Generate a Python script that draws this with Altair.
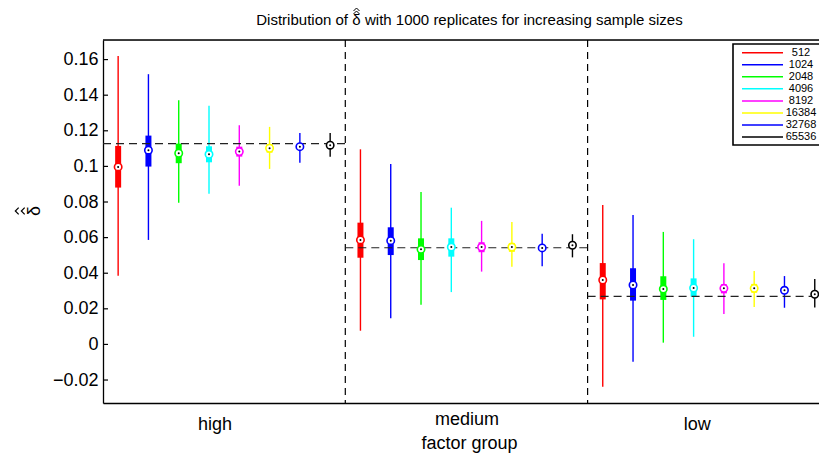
import altair as alt
import pandas as pd

groups = ["high", "medium", "low"]
sample_sizes = ["512", "1024", "2048", "4096", "8192", "16384", "32768", "65536"]
colors = ["#ff0000", "#0000ff", "#00ff00", "#00ffff", "#ff00ff", "#ffff00", "#0000ff", "#000000"]

whisker_hi = {
    "high":   [0.1620, 0.1518, 0.1372, 0.1340, 0.1231, 0.1222, 0.1188, 0.1188],
    "medium": [0.1096, 0.1014, 0.0856, 0.0768, 0.0694, 0.0688, 0.0622, 0.0619],
    "low":    [0.0783, 0.0727, 0.0632, 0.0591, 0.0456, 0.0413, 0.0384, 0.0368],
}
q3 = {
    "high":   [0.1115, 0.1173, 0.1128, 0.1113, 0.1111, 0.1126, 0.1125, 0.1132],
    "medium": [0.0684, 0.0658, 0.0596, 0.0596, 0.0574, 0.0570, 0.0555, 0.0570],
    "low":    [0.0457, 0.0428, 0.0383, 0.0371, 0.0338, 0.0340, 0.0320, 0.0300],
}
median = {
    "high":   [0.0997, 0.1091, 0.1074, 0.1068, 0.1083, 0.1102, 0.1111, 0.1119],
    "medium": [0.0587, 0.0583, 0.0534, 0.0547, 0.0547, 0.0547, 0.0542, 0.0557],
    "low":    [0.0362, 0.0334, 0.0311, 0.0317, 0.0315, 0.0315, 0.0304, 0.0282],
}
q1 = {
    "high":   [0.0881, 0.0999, 0.1018, 0.1023, 0.1055, 0.1077, 0.1095, 0.1105],
    "medium": [0.0487, 0.0502, 0.0474, 0.0493, 0.0518, 0.0520, 0.0530, 0.0545],
    "low":    [0.0253, 0.0246, 0.0250, 0.0268, 0.0287, 0.0290, 0.0290, 0.0270],
}
whisker_lo = {
    "high":   [0.0386, 0.0587, 0.0796, 0.0847, 0.0892, 0.0986, 0.1021, 0.1054],
    "medium": [0.0077, 0.0147, 0.0223, 0.0294, 0.0409, 0.0437, 0.0439, 0.0489],
    "low":    [-0.0238, -0.0097, 0.0010, 0.0043, 0.0171, 0.0210, 0.0206, 0.0208],
}
true_values = [0.1128, 0.0543, 0.0270]
y_ticks = [-0.02, 0.0, 0.02, 0.04, 0.06, 0.08, 0.10, 0.12, 0.14, 0.16]
group_label_pos = [0.96, 2.0, 2.95]
separators = [1.5, 2.5]

title_left = "Distribution of"
title_symbol = "\u03b4"
title_right = "with 1000 replicates for increasing sample sizes"
x_title = "factor group"

FONT = "Liberation Sans"
W, H = 716, 363

rows = []
for gi, g in enumerate(groups):
    for si, s in enumerate(sample_sizes):
        rows.append(dict(group=g, size=s, pos=gi + 1 + (si - 3.5) / 8,
                         lo=whisker_lo[g][si], q1=q1[g][si], med=median[g][si],
                         q3=q3[g][si], hi=whisker_hi[g][si]))
df = pd.DataFrame(rows)
df_ref = pd.DataFrame({"x0": [i + 0.5 for i in range(3)], "x1": [i + 1.5 for i in range(3)], "y": true_values})
df_sep = pd.DataFrame({"x": separators})
df_ticks = pd.DataFrame({"t": y_ticks})
df_one = pd.DataFrame({"a": [0]})
df_leg = pd.DataFrame({"size": sample_sizes, "idx": list(range(len(sample_sizes)))})

xs = alt.Scale(domain=[0.5, 3.455], nice=False, zero=False)
ys = alt.Scale(domain=[-0.0329, 0.1710], nice=False, zero=False)
cs = alt.Scale(domain=sample_sizes, range=colors)

xaxis = alt.Axis(values=group_label_pos,
                 labelExpr="datum.value < 1.5 ? 'high' : (datum.value < 2.5 ? 'medium' : 'low')",
                 ticks=False, tickSize=0, grid=False, domainColor="black", domainWidth=1.3,
                 labelFont=FONT, labelFontSize=18, labelColor="black",
                 labelPadding={"condition": {"test": "datum.value > 1.5 && datum.value < 2.5", "value": 7}, "value": 12},
                 title=x_title, titleFont=FONT, titleFontSize=18, titleFontWeight="normal",
                 titleColor="black", titleX=366, titleY=45, titleBaseline="alphabetic", titleAlign="center")
yaxis = alt.Axis(values=y_ticks, labelExpr="format(datum.value, '.2~f')",
                 ticks=False, tickSize=0, grid=False, domainColor="black", domainWidth=1.3,
                 labelFont=FONT, labelFontSize=18, labelColor="black", labelPadding=5, title=None)

X = lambda f: alt.X(f, scale=xs, axis=xaxis)
Y = lambda f: alt.Y(f, scale=ys, axis=yaxis)
C = alt.Color("size:N", scale=cs, legend=None)

sep = alt.Chart(df_sep).mark_rule(color="black", strokeWidth=1.2, strokeDash=[7, 5]).encode(x=X("x:Q"))
whisk = alt.Chart(df).mark_rule(strokeWidth=1.4).encode(x=X("pos:Q"), y=Y("lo:Q"), y2="hi:Q", color=C)
boxes = alt.Chart(df).mark_rule(strokeWidth=6, strokeCap="butt").encode(x=X("pos:Q"), y=Y("q1:Q"), y2="q3:Q", color=C)
ref = alt.Chart(df_ref).mark_rule(color="#222222", strokeWidth=1.2, strokeDash=[8, 5], clip=True).encode(
    x=X("x0:Q"), x2="x1:Q", y=Y("y:Q"))
circ = alt.Chart(df).mark_point(shape="circle", filled=True, fill="white", size=55, strokeWidth=1.6, opacity=1).encode(
    x=X("pos:Q"), y=Y("med:Q"), stroke=alt.Stroke("size:N", scale=cs, legend=None))
dots = alt.Chart(df).mark_point(shape="circle", filled=True, color="black", size=4, opacity=1).encode(
    x=X("pos:Q"), y=Y("med:Q"))
ticks = alt.Chart(df_ticks).mark_rule(color="black", strokeWidth=1.2).encode(
    y=Y("t:Q"), x=alt.value(0), x2=alt.value(5))
topline = alt.Chart(df_one).mark_rule(color="black", strokeWidth=1.3).encode(
    y=alt.value(0), x=alt.value(0), x2=alt.value(W))

main = alt.layer(sep, whisk, boxes, ref, circ, dots, ticks, topline)

# legend
ls = alt.Scale(domain=[-1.054, 29.07], nice=False, zero=False, reverse=True)
leg_box = alt.Chart(df_one).mark_rect(fill="white", stroke="black", strokeWidth=1.6).encode(
    x=alt.value(630), x2=alt.value(790), y=alt.value(4), y2=alt.value(105))
leg_lines = alt.Chart(df_leg).mark_rule(strokeWidth=1.5).encode(
    x=alt.value(639), x2=alt.value(680), y=alt.Y("idx:Q", scale=ls, axis=None), color=C)
leg_text = alt.Chart(df_leg).mark_text(align="center", baseline="middle", font=FONT, fontSize=11, color="black").encode(
    x=alt.value(698), y=alt.Y("idx:Q", scale=ls, axis=None), text="size:N")

# title and y label with double hats
hat_up = "M-1,0.5L0,-0.5L1,0.5"
hat_left = "M0.5,-1L-0.5,0L0.5,1"
t_left = alt.Chart(df_one).mark_text(text=title_left, align="right", baseline="alphabetic", font=FONT, fontSize=15,
                                     color="black").encode(x=alt.value(245), y=alt.value(-15))
t_sym = alt.Chart(df_one).mark_text(text=title_symbol, align="center", baseline="alphabetic", font=FONT, fontSize=15,
                                    color="black").encode(x=alt.value(253.5), y=alt.value(-15))
t_right = alt.Chart(df_one).mark_text(text=title_right, align="left", baseline="alphabetic", font=FONT, fontSize=15,
                                      color="black").encode(x=alt.value(262), y=alt.value(-15))
t_hat1 = alt.Chart(df_one).mark_point(shape=hat_up, filled=False, color="black", strokeWidth=1, size=36, opacity=1).encode(
    x=alt.value(253.5), y=alt.value(-27.5))
t_hat2 = alt.Chart(df_one).mark_point(shape=hat_up, filled=False, color="black", strokeWidth=1, size=36, opacity=1).encode(
    x=alt.value(253.5), y=alt.value(-30.5))
y_sym = alt.Chart(df_one).mark_text(text=title_symbol, align="center", baseline="middle", angle=270, font=FONT,
                                    fontSize=18, color="black").encode(x=alt.value(-68), y=alt.value(171))
y_hat1 = alt.Chart(df_one).mark_point(shape=hat_left, filled=False, color="black", strokeWidth=1.2, size=45, opacity=1).encode(
    x=alt.value(-80), y=alt.value(171))
y_hat2 = alt.Chart(df_one).mark_point(shape=hat_left, filled=False, color="black", strokeWidth=1.2, size=45, opacity=1).encode(
    x=alt.value(-86), y=alt.value(171))

overlay = alt.layer(leg_box, leg_lines, leg_text, t_left, t_sym, t_right, t_hat1, t_hat2, y_sym, y_hat1, y_hat2)

chart = alt.layer(main, overlay).resolve_scale(y="independent").properties(
    width=W, height=H,
    autosize=alt.AutoSizeParams(type="none"),
    padding={"left": 95, "top": 32, "right": 0, "bottom": 51},
).configure_view(stroke=None).configure(background="white")

chart.save("out.html", embed_options={"renderer": "svg", "actions": False})
